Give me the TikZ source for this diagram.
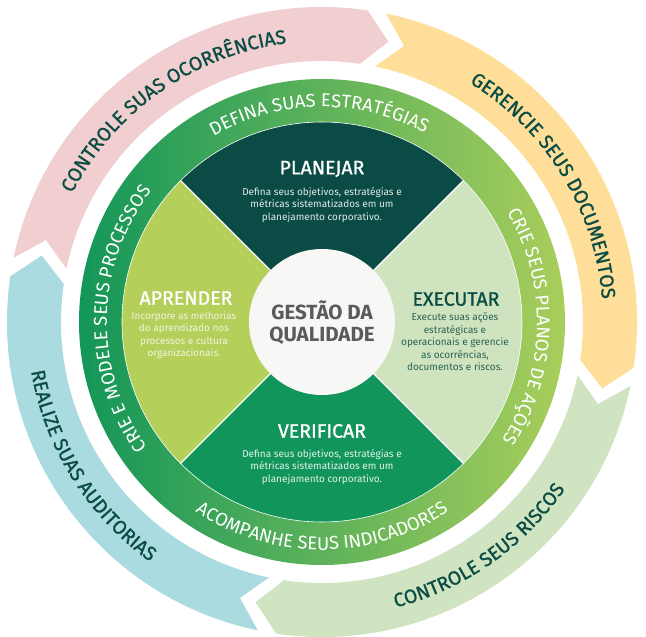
\documentclass[tikz,border=0pt]{standalone}
\usepackage{fontspec}
\setmainfont{Fira Sans}
\newfontfamily\semib[FakeBold=1.1]{Fira Sans}
\usetikzlibrary{decorations.text}
\definecolor{cdark}{HTML}{0B4D44}
\definecolor{cpink}{HTML}{F1CFD0}
\definecolor{cyellow}{HTML}{FEDE99}
\definecolor{clgreen}{HTML}{D0E4C2}
\definecolor{cblue}{HTML}{A9DBE0}
\definecolor{ringL}{HTML}{139659}
\definecolor{ringR}{HTML}{A9CE5B}
\definecolor{qplan}{HTML}{0A4C45}
\definecolor{qexec}{HTML}{D0E3BF}
\definecolor{qver}{HTML}{12955B}
\definecolor{qapr}{HTML}{B5CF5B}
\definecolor{ccenter}{HTML}{F7F7F6}
\definecolor{cgrey}{HTML}{5A5A5A}
\newcommand{\outerseg}[3]{%
  \fill[#3] (#1:315pt) arc[start angle=#1, end angle={#2+3.4}, radius=315pt]
    -- ({#2-1.6}:288pt) -- ({#2+3.4}:261pt)
    arc[start angle={#2+3.4}, end angle=#1, radius=261pt]
    -- ({#1-4.8}:288pt) -- cycle;}
\newcommand{\outerfnt}{\semib\fontsize{19.5}{19.5}\selectfont\color{cdark}}
\newcommand{\ringfnt}{\fontsize{18.5}{18.5}\selectfont\color{white}}
\newcommand{\arctext}[5]{%
  \path[decorate, decoration={text along path, text align=center, text={|#5|#4}}]
    (#1:#3) arc[start angle=#1, end angle=#2, radius=#3];}
\tikzset{
  title/.style={font=\semib\fontsize{19.5}{19.5}\selectfont, inner sep=0pt},
  desc/.style={font=\fontsize{10}{12.5}\selectfont, align=center, inner sep=0pt},
}
\begin{document}
\begin{tikzpicture}
\useasboundingbox (-322pt,-315pt) rectangle (324pt,322pt);
\fill[white] (-322pt,-315pt) rectangle (324pt,322pt);
% outer arrow ring
\outerseg{168.25}{78.25}{cpink}
\outerseg{78.25}{-11.75}{cyellow}
\outerseg{-11.75}{-101.75}{clgreen}
\outerseg{258.25}{168.25}{cblue}
% green ring
\shade[left color=ringL, right color=ringR] (0,0) circle[radius=243pt];
% quadrants
\fill[qplan] (0,0) -- (45:200pt) arc[start angle=45, end angle=135, radius=200pt] -- cycle;
\fill[qapr] (0,0) -- (135:200pt) arc[start angle=135, end angle=225, radius=200pt] -- cycle;
\fill[qver] (0,0) -- (225:200pt) arc[start angle=225, end angle=315, radius=200pt] -- cycle;
\fill[qexec] (0,0) -- (-45:200pt) arc[start angle=-45, end angle=45, radius=200pt] -- cycle;
\draw[white, line width=1.2pt] (45:200pt) -- (225:200pt) (135:200pt) -- (-45:200pt);
\draw[white, line width=0.6pt] (0,0) circle[radius=200pt];
% center
\fill[ccenter] (0,0) circle[radius=73pt];
\node[font=\fontsize{20.5}{22}\selectfont\bfseries, text=cgrey, align=center, inner sep=0pt] (gestao) at (0pt,-0.5pt) {GESTÃO DA\\QUALIDADE};
% outer texts
\arctext{175}{75}{281pt}{CONTROLE SUAS OCORRÊNCIAS}{\outerfnt}
\arctext{81.5}{-18.5}{281pt}{GERENCIE SEUS DOCUMENTOS}{\outerfnt}
\arctext{-105}{-5}{295pt}{CONTROLE SEUS RISCOS}{\outerfnt}
\arctext{162}{262}{295pt}{REALIZE SUAS AUDITORIAS}{\outerfnt}
% ring texts
\arctext{140.8}{40.8}{215pt}{DEFINA SUAS ESTRATÉGIAS}{\ringfnt}
\arctext{58.7}{-61.3}{215pt}{CRIE SEUS PLANOS DE AÇÕES}{\ringfnt}
\arctext{195}{345}{228pt}{ACOMPANHE SEUS INDICADORES}{\ringfnt}
\arctext{249}{109}{215pt}{CRIE E MODELE SEUS PROCESSOS}{\ringfnt}
% quadrant texts
\node[title, text=white] (planejar) at (0pt,153pt) {PLANEJAR};
\node[desc, text=white!88!qplan] (planejarD) at (0pt,117pt) {Defina seus objetivos, estratégias e\\métricas sistematizados em um\\planejamento corporativo.};
\node[title, text=cdark] (executar) at (134pt,23pt) {EXECUTAR};
\node[desc, text=cdark!85!qexec] (executarD) at (133pt,-20pt) {Execute suas ações\\estratégicas e\\operacionais e gerencie\\as ocorrências,\\documentos e riscos.};
\node[title, text=white] (aprender) at (-136pt,24pt) {APRENDER};
\node[desc, text=white!80!qapr] (aprenderD) at (-138pt,-13pt) {Incorpore as melhorias\\do aprendizado nos\\processos e cultura\\organizacionais.};
\node[title, text=white] (verificar) at (0pt,-109pt) {VERIFICAR};
\node[desc, text=white!88!qver] (verificarD) at (0pt,-145pt) {Defina seus objetivos, estratégias e\\métricas sistematizados em um\\planejamento corporativo.};
\end{tikzpicture}
\end{document}
